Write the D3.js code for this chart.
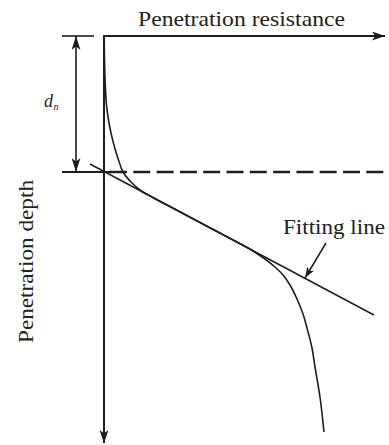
<!DOCTYPE html>
<html>
<head>
<meta charset="utf-8">
<script src="https://cdn.jsdelivr.net/npm/d3@7"></script>
<style>
html,body{margin:0;padding:0;background:#fff;}
svg{display:block;}
text{font-family:"Liberation Serif","DejaVu Serif",serif;fill:#222;}
</style>
</head>
<body>
<svg id="chart" width="389" height="445"></svg>
<script>
// ---- data (abstract units: resistance 0-100, depth 0-100) ----
const resistance = [0.07, 0.18, 0.46, 0.89, 1.61, 2.5, 3.75, 5.18, 6.79, 9.64, 12.86, 27.1, 41.4, 52.1, 53.9, 57.5, 61.07, 63.93, 66.43, 68.93, 71.07, 72.5, 74.29, 75.36, 77.14, 78.57];
const depth      = [0, 6, 12.25, 17.25, 21, 24.25, 27.75, 31, 34, 36.5, 38.5, 43.95, 49.27, 53.26, 54.08, 55.75, 57.75, 59.75, 62.25, 65.75, 69.5, 73, 78, 82.75, 90.25, 99];
const fitResistance = [-5, 96.4];
const fitDepth      = [32, 69.75];
const dnDepth = [34];
const titleLabel = "Penetration resistance";
const depthLabel = "Penetration depth";
const fitLabel = "Fitting line";

const svg = d3.select("#chart");
const ink = "#1e1e1e";
const x = d3.scaleLinear().domain([0, 100]).range([104, 384]);
const y = d3.scaleLinear().domain([0, 100]).range([36, 436]);

const defs = svg.append("defs");
function marker(id, len, half) {
  defs.append("marker").attr("id", id)
    .attr("viewBox", `0 ${-half} ${len} ${2*half}`)
    .attr("refX", len).attr("refY", 0)
    .attr("markerWidth", len).attr("markerHeight", 2*half)
    .attr("markerUnits", "userSpaceOnUse")
    .attr("orient", "auto-start-reverse")
    .append("path").attr("d", `M0,${-half}L${len},0L0,${half}L${len*0.25},0Z`).attr("fill", ink);
}
marker("arrAxis", 13, 4.5);
marker("arrDim", 14, 4.5);
marker("arrSmall", 11, 4);

// horizontal axis (resistance) along the top
svg.append("line")
  .attr("x1", x(0) - 1).attr("y1", y(0)).attr("x2", 385).attr("y2", y(0))
  .attr("stroke", ink).attr("stroke-width", 2).attr("marker-end", "url(#arrAxis)");
// vertical axis (depth)
svg.append("line")
  .attr("x1", x(0)).attr("y1", y(0) - 1).attr("x2", x(0)).attr("y2", 443)
  .attr("stroke", ink).attr("stroke-width", 2).attr("marker-end", "url(#arrAxis)");

// reference ticks on left
svg.append("line").attr("x1", 62).attr("x2", 94).attr("y1", y(0)).attr("y2", y(0))
  .attr("stroke", ink).attr("stroke-width", 1.6);
svg.append("line").attr("x1", 62).attr("x2", 110).attr("y1", y(dnDepth[0])).attr("y2", y(dnDepth[0]))
  .attr("stroke", ink).attr("stroke-width", 1.8);
// dashed d_n line
svg.append("line").attr("x1", 110).attr("x2", 385).attr("y1", y(dnDepth[0])).attr("y2", y(dnDepth[0]))
  .attr("stroke", ink).attr("stroke-width", 2.6).attr("stroke-dasharray", "17,6.3");

// dimension arrow for d_n
svg.append("line").attr("x1", 76).attr("x2", 76)
  .attr("y1", y(0)).attr("y2", y(dnDepth[0]))
  .attr("stroke", ink).attr("stroke-width", 1.6)
  .attr("marker-start", "url(#arrDim)").attr("marker-end", "url(#arrDim)");

// d_n label
const dn = svg.append("text").attr("x", 44).attr("y", 107)
  .style("font-size", "18px").style("font-style", "italic");
dn.append("tspan").text("d");
dn.append("tspan").attr("dx", 0.5).attr("dy", 3).style("font-size", "10px").text("n");

// fitting line
svg.append("line")
  .attr("x1", x(fitResistance[0])).attr("y1", y(fitDepth[0]))
  .attr("x2", x(fitResistance[1])).attr("y2", y(fitDepth[1]))
  .attr("stroke", ink).attr("stroke-width", 1.5);

// measured curve
const pts = resistance.map((r, i) => [r, depth[i]]);
svg.append("path").datum(pts)
  .attr("d", d3.line().x(d => x(d[0])).y(d => y(d[1])).curve(d3.curveCatmullRom.alpha(0.5)))
  .attr("fill", "none").attr("stroke", ink).attr("stroke-width", 1.6);

// labels
svg.append("text").attr("x", 138).attr("y", 26).style("font-size", "21px")
  .attr("textLength", 207).attr("lengthAdjust", "spacingAndGlyphs").text(titleLabel);
svg.append("text").attr("transform", "translate(33,343) rotate(-90)").style("font-size", "21px")
  .attr("textLength", 163).attr("lengthAdjust", "spacingAndGlyphs").text(depthLabel);
svg.append("text").attr("x", 283).attr("y", 234).style("font-size", "20px")
  .attr("textLength", 102).attr("lengthAdjust", "spacingAndGlyphs").text(fitLabel);

// pointer arrow to fitting line
svg.append("line").attr("x1", 326).attr("y1", 243).attr("x2", 305).attr("y2", 278)
  .attr("stroke", ink).attr("stroke-width", 1.5).attr("marker-end", "url(#arrSmall)");
</script>
</body>
</html>
